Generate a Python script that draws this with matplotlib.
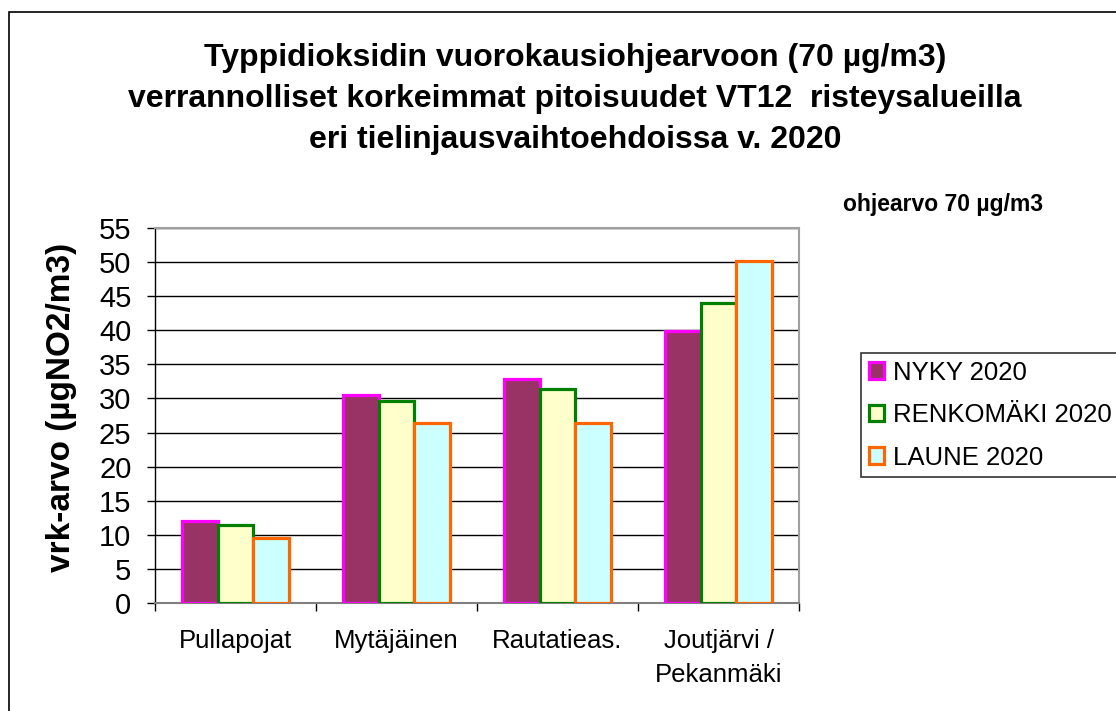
import matplotlib
matplotlib.use("Agg")
import matplotlib.pyplot as plt
from matplotlib.patches import Rectangle
import numpy as np

plt.rcParams['font.family'] = ['Liberation Sans', 'DejaVu Sans']

categories = ["Pullapojat", "Mytäjäinen", "Rautatieas.", "Joutjärvi /\nPekanmäki"]
series_names = ["NYKY 2020", "RENKOMÄKI 2020", "LAUNE 2020"]
nyky = [12.0, 30.5, 32.9, 39.9]
renkomaki = [11.4, 29.7, 31.4, 44.0]
laune = [9.6, 26.4, 26.4, 50.2]
yticks = list(range(0, 60, 5))

title = ("Typpidioksidin vuorokausiohjearvoon (70 µg/m3)\n"
         "verrannolliset korkeimmat pitoisuudet VT12  risteysalueilla\n"
         "eri tielinjausvaihtoehdoissa v. 2020")
ylabel = "vrk-arvo (µgNO2/m3)"
note = "ohjearvo 70 µg/m3"

fills = ["#993366", "#FFFFCC", "#CCFFFF"]
edges = ["#FF00FF", "#008000", "#FF6600"]

W, H = 1116, 711
fig = plt.figure(figsize=(W / 100, H / 100), dpi=100)
ax = fig.add_axes([155 / W, 1 - 603 / H, (799 - 155) / W, (603 - 228) / H])

x = np.arange(len(categories))
bw = 0.222
for i, (vals, fc, ec, name) in enumerate(zip([nyky, renkomaki, laune], fills, edges, series_names)):
    ax.bar(x + (i - 1) * bw, vals, width=bw, color=fc, edgecolor=ec,
           linewidth=2.3, label=name, zorder=3)

ax.set_xlim(-0.5, len(categories) - 0.5)
ax.set_ylim(0, 55)
ax.set_yticks(yticks)
ax.set_yticklabels([str(t) for t in yticks], fontsize=21)
ax.yaxis.grid(True, color="black", linewidth=1.0, zorder=0)
ax.set_axisbelow(True)

ax.set_xticks(x)
ax.set_xticklabels(categories, fontsize=18.5, linespacing=1.5)
ax.set_xticks(np.arange(-0.5, len(categories), 1.0), minor=True)
ax.tick_params(axis="x", which="major", length=0, pad=19)
ax.tick_params(axis="x", which="minor", length=6, width=1, color="black")
ax.tick_params(axis="y", length=6, width=1, pad=11, color="black")

for s in ["top", "right"]:
    ax.spines[s].set_color("#A0A0A0")
    ax.spines[s].set_linewidth(1.5)
ax.spines["left"].set_color("black")
ax.spines["left"].set_linewidth(1.0)
ax.spines["bottom"].set_color("#808080")
ax.spines["bottom"].set_linewidth(1.5)

fig.text(62 / W, 1 - 407 / H, ylabel, rotation=90, ha="center", va="center",
         fontsize=24, fontweight="bold")

fig.text(575 / W, 1 - 99 / H, title, ha="center", va="center",
         fontsize=23.0, fontweight="bold", linespacing=1.47)

fig.text(843 / W, 1 - 205 / H, note, ha="left", va="center",
         fontsize=16.5, fontweight="bold")

leg = fig.legend(loc="upper left", bbox_to_anchor=(861 / W, 1 - 353 / H),
                 fontsize=18.5, frameon=True, fancybox=False, handlelength=0.6,
                 handleheight=0.6, handletextpad=0.35, labelspacing=0.72,
                 borderpad=0.3, borderaxespad=0)
leg.get_frame().set_edgecolor("black")
leg.get_frame().set_linewidth(1.2)

fig.patches.append(Rectangle((9 / W, -0.1), 1.5, 1.1 - 12 / H, transform=fig.transFigure,
                             fill=False, edgecolor="black", linewidth=1.2))

fig.savefig("out.png", dpi=100)
